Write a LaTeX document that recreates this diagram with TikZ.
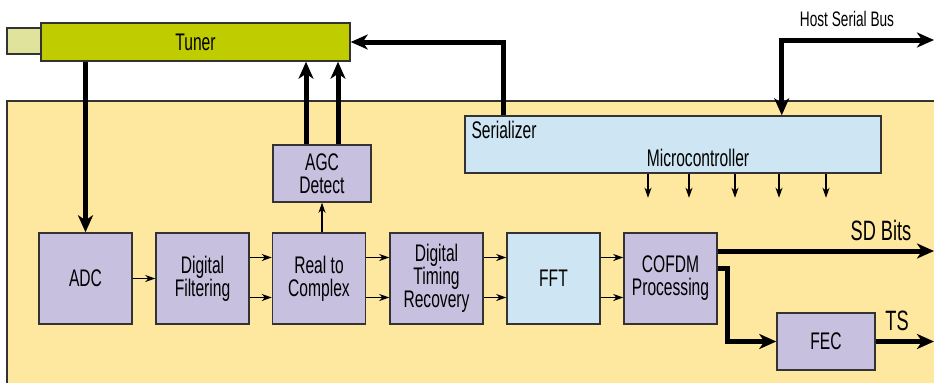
\documentclass[tikz,border=0pt]{standalone}
\usepackage{fontspec}
\setmainfont{Liberation Sans}[FakeStretch=0.65]
\usetikzlibrary{arrows.meta,positioning}

\definecolor{panel}{HTML}{FEE89F}
\definecolor{lav}{HTML}{C8C0DF}
\definecolor{sky}{HTML}{CEE6F3}
\definecolor{tunergreen}{HTML}{BFCC00}
\definecolor{tabgreen}{HTML}{DFE39B}
\definecolor{edge}{HTML}{333333}

\begin{document}
\begin{tikzpicture}[x=1pt, y=-1pt, font=\fontsize{24}{23}\selectfont]

		\tikzstyle{block}=[rectangle, draw=edge, line width=1.5pt, fill=lav, text=black, align=center, minimum width=93pt, minimum height=91pt, inner sep=2pt]
		\tikzstyle{small}=[block, minimum width=98pt, minimum height=57pt]
		\tikzstyle{bus}=[line width=5pt, -{Stealth[length=17pt, width=15pt, inset=5pt]}]
		\tikzstyle{sig}=[line width=1.3pt, -{Stealth[length=10pt, width=7pt, inset=3pt]}]

		\useasboundingbox (0,0) rectangle (934,383);

		% board area
		\fill[panel] (7,101) rectangle (934,383);
		\draw[edge, line width=1.5pt] (7,383) -- (7,101) -- (934,101);

		\node[rectangle, draw=edge, line width=1.5pt, fill=tabgreen, minimum width=34pt, minimum height=26pt] (tab) at (24,41) {};
		\node[rectangle, draw=edge, line width=1.5pt, fill=tunergreen, minimum width=309pt, minimum height=38pt] (tuner) at (195.5,42) {Tuner};

		\node[small] (agc) at (322,173.5) {AGC\\Detect};
		\node[small, fill=sky, minimum width=416pt] (micro) at (673,144.5) {};
		\node[anchor=west] (ser) at (468,130) {Serializer};
		\node (mc) at (698,158) {Microcontroller};

		\node[block] (adc)   at (85.5,278.5)  {ADC};
		\node[block] (filt)  at (202.5,278.5) {Digital\\Filtering};
		\node[block] (r2c)   at (319,278.5)   {Real to\\Complex};
		\node[block] (dtr)   at (436.5,278.5) {Digital\\Timing\\Recovery};
		\node[block, fill=sky] (fft) at (553.5,278.5) {FFT};
		\node[block] (cofdm) at (670.5,278.5) {COFDM\\Processing};
		\node[small] (fec)   at (826,341.5)   {FEC};

		\coordinate (host) at (934,40);
		\coordinate (sd) at (934,251);
		\coordinate (ts) at (934,341.5);
		\node[font=\fontsize{21}{21}\selectfont] (hostlbl) at (847,19) {Host Serial Bus};
		\node[font=\fontsize{28}{27}\selectfont] (sdlbl) at (881,230) {SD Bits};
		\node[font=\fontsize{28}{27}\selectfont] (tslbl) at (897,321) {TS};

		% thick links
		\draw[bus] (adc.north |- tuner.south) -- (adc.north);
		\draw[bus] ([xshift=-16pt]agc.north) -- ([xshift=-16pt]agc.north |- tuner.south);
		\draw[bus] ([xshift=16pt]agc.north) -- ([xshift=16pt]agc.north |- tuner.south);
		\draw[bus] ([xshift=39pt]micro.north west) |- (tuner.east);
		\draw[bus, {Stealth[length=17pt, width=15pt, inset=5pt]}-{Stealth[length=17pt, width=15pt, inset=5pt]}] (host) -| ([xshift=-100pt]micro.north east);
		\draw[bus] (cofdm.east |- sd) -- (sd);
		\draw[bus] ([yshift=10pt]cofdm.east) -- ++(10,0) |- (fec.west);
		\draw[bus] (fec.east) -- (ts);

		% signal paths
		\draw[sig] (adc) -- (filt);
		\foreach \a/\b in {filt/r2c, r2c/dtr, dtr/fft, fft/cofdm}{
			\draw[sig] ([yshift=21pt]\a.east) -- ([yshift=21pt]\b.west);
			\draw[sig] ([yshift=-19pt]\a.east) -- ([yshift=-19pt]\b.west);
		}
		\draw[sig] (r2c.north -| agc.south) -- (agc.south);
		\foreach \x in {648,689,735,779,826}
			\draw[sig] (micro.south -| \x,0) -- ++(0,24);

\end{tikzpicture}
\end{document}
